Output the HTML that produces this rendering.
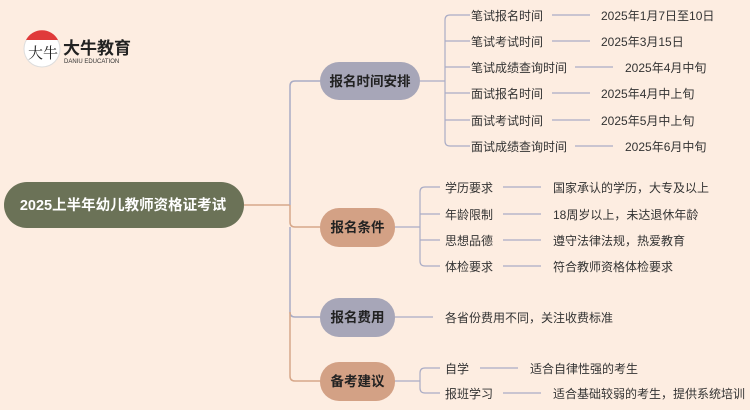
<!DOCTYPE html>
<html><head><meta charset="utf-8"><style>
html,body{margin:0;padding:0;background:#fdede1;}
svg{display:block;font-family:"Liberation Sans","Noto Sans CJK SC",sans-serif;}
</style></head><body>
<svg width="750" height="410" viewBox="0 0 750 410" xmlns="http://www.w3.org/2000/svg">
<rect width="750" height="410" fill="#fdede1"/>
<!-- logo -->
<circle cx="42" cy="49" r="18" fill="#fff" stroke="#ddd" stroke-width="1"/>
<path d="M26 40 A18 18 0 0 1 58 40 Z" fill="#e03a3a"/>
<text x="28" y="58" font-size="15" fill="#222" font-family="Liberation Serif,'Noto Serif CJK SC',serif">大牛</text>
<text x="63" y="54" font-size="17" font-weight="bold" fill="#222">大牛教育</text>
<text x="64" y="63" font-size="6" fill="#333">DANIU EDUCATION</text>
<!-- trunk -->
<g fill="none" stroke-width="1.5">
<path d="M244 205 H290" stroke="#d7a88a"/>
<path d="M290 205 V86 Q290 81 295 81 H320" stroke="#aaacc5"/>
<path d="M290 205 V222 Q290 227 295 227 H320" stroke="#d7a88a"/>
<path d="M290 227 V312 Q290 317 295 317 H320" stroke="#aaacc5"/>
<path d="M290 312 V376 Q290 381 295 381 H320" stroke="#d7a88a"/>
</g>
<g fill="none" stroke="#aaacc5" stroke-width="1.2">
<path d="M420 81 H445"/>
<path d="M470 15 H450 Q445 15 445 20 V141 Q445 146 450 146 H470"/>
<path d="M445 41 H470 M445 67 H470 M445 93 H470 M445 120 H470"/>
<path d="M552 15 H590 M552 41 H590 M575 67 H613 M552 93 H590 M552 120 H590 M575 146 H613"/>
<path d="M395 227 H420"/>
<path d="M440 187 H425 Q420 187 420 192 V261 Q420 266 425 266 H440"/>
<path d="M420 214 H440 M420 240 H440"/>
<path d="M503 187 H541 M503 214 H541 M503 240 H541 M503 266 H541"/>
<path d="M395 317 H433"/>
<path d="M395 381 H420"/>
<path d="M440 368 H425 Q420 368 420 373 V388 Q420 393 425 393 H440"/>
<path d="M480 368 H518 M503 393 H541"/>
</g>
<!-- root -->
<rect x="4" y="182" width="240" height="46" rx="23" fill="#6b7257"/>
<text x="123" y="210" font-size="14.5" font-weight="bold" fill="#fff" text-anchor="middle">2025上半年幼儿教师资格证考试</text>
<!-- level 1 -->
<rect x="320" y="62" width="100" height="38" rx="19" fill="#a7a6b8"/>
<text x="370" y="86" font-size="13.5" font-weight="bold" fill="#222" text-anchor="middle">报名时间安排</text>
<rect x="320" y="208" width="75" height="39" rx="19" fill="#d3a185"/>
<text x="357.5" y="232" font-size="13.5" font-weight="bold" fill="#222" text-anchor="middle">报名条件</text>
<rect x="320" y="298" width="75" height="39" rx="19" fill="#a7a6b8"/>
<text x="357.5" y="322" font-size="13.5" font-weight="bold" fill="#222" text-anchor="middle">报名费用</text>
<rect x="320" y="362" width="75" height="39" rx="19" fill="#d3a185"/>
<text x="357.5" y="386" font-size="13.5" font-weight="bold" fill="#222" text-anchor="middle">备考建议</text>
<!-- leaves -->
<g font-size="12" fill="#333">
<text x="471" y="20">笔试报名时间</text><text x="601" y="20">2025年1月7日至10日</text>
<text x="471" y="46">笔试考试时间</text><text x="601" y="46">2025年3月15日</text>
<text x="471" y="72">笔试成绩查询时间</text><text x="625" y="72">2025年4月中旬</text>
<text x="471" y="98">面试报名时间</text><text x="601" y="98">2025年4月中上旬</text>
<text x="471" y="125">面试考试时间</text><text x="601" y="125">2025年5月中上旬</text>
<text x="471" y="151">面试成绩查询时间</text><text x="625" y="151">2025年6月中旬</text>
<text x="445" y="192">学历要求</text><text x="553" y="192">国家承认的学历，大专及以上</text>
<text x="445" y="219">年龄限制</text><text x="553" y="219">18周岁以上，未达退休年龄</text>
<text x="445" y="245">思想品德</text><text x="553" y="245">遵守法律法规，热爱教育</text>
<text x="445" y="271">体检要求</text><text x="553" y="271">符合教师资格体检要求</text>
<text x="445" y="322">各省份费用不同，关注收费标准</text>
<text x="445" y="373">自学</text><text x="530" y="373">适合自律性强的考生</text>
<text x="445" y="398">报班学习</text><text x="553" y="398">适合基础较弱的考生，提供系统培训</text>
</g>
</svg>
</body></html>
